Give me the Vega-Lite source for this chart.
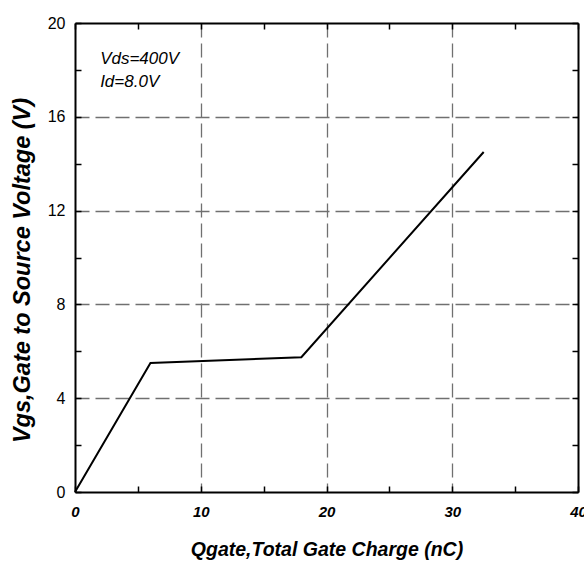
{
  "$schema": "https://vega.github.io/schema/vega-lite/v6.json",
  "width": 503,
  "height": 469,
  "autosize": {"type": "none"},
  "padding": {"left": 75, "top": 23, "right": 6, "bottom": 71},
  "background": "white",
  "config": {
    "view": {"stroke": null},
    "axis": {"domainColor": "black", "domainWidth": 2, "tickColor": "black", "tickWidth": 1.5, "labelColor": "black", "titleColor": "black"}
  },
  "datasets": {
    "curve": [
      {"q": 0, "v": 0},
      {"q": 6, "v": 5.5},
      {"q": 18, "v": 5.75},
      {"q": 32.5, "v": 14.5}
    ],
    "notes": [
      {"q": 2, "v": 18.27, "label": "Vds=400V"},
      {"q": 2, "v": 17.25, "label": "Id=8.0V"}
    ]
  },
  "layer": [
    {
      "data": {"name": "curve"},
      "mark": {"type": "line", "opacity": 0},
      "encoding": {
        "x": {"field": "q", "type": "quantitative", "scale": {"domain": [0, 40], "nice": false},
          "axis": {"orient": "bottom", "values": [10, 20, 30], "grid": true, "gridDash": [14, 6], "gridColor": "#707070", "gridWidth": 1.3, "labels": false, "ticks": false, "domain": false, "title": null}},
        "y": {"field": "v", "type": "quantitative", "scale": {"domain": [0, 20], "nice": false},
          "axis": {"orient": "left", "values": [4, 8, 12, 16], "grid": true, "gridDash": [14, 6], "gridColor": "#707070", "gridWidth": 1.3, "labels": false, "ticks": false, "domain": false, "title": null}}
      }
    },
    {
      "data": {"name": "curve"},
      "mark": {"type": "line", "color": "black", "strokeWidth": 2},
      "encoding": {
        "x": {"field": "q", "type": "quantitative", "scale": {"domain": [0, 40], "nice": false},
          "axis": {"orient": "bottom", "values": [0, 5, 10, 15, 20, 25, 30, 35, 40], "labelExpr": "datum.value % 10 == 0 ? datum.label : ''", "tickSize": -6, "labelPadding": 18, "grid": false, "labelFont": "Liberation Sans", "labelFontSize": 15, "labelFontWeight": "bold", "labelFontStyle": "italic", "labelFlush": false, "labelOverlap": false,
            "title": "Qgate,Total Gate Charge (nC)", "titleFont": "Liberation Sans", "titleFontSize": 19.5, "titleFontWeight": "bold", "titleFontStyle": "italic", "titleY": 63, "titleBaseline": "alphabetic"}},
        "y": {"field": "v", "type": "quantitative", "scale": {"domain": [0, 20], "nice": false},
          "axis": {"orient": "left", "values": [0, 2, 4, 6, 8, 10, 12, 14, 16, 18, 20], "labelExpr": "datum.value % 4 == 0 ? datum.label : ''", "tickSize": -6, "labelPadding": 16, "grid": false, "labelFont": "Liberation Sans", "labelFontSize": 16, "labelFlush": false, "labelOverlap": false,
            "title": "Vgs,Gate to Source Voltage (V)", "titleFont": "Liberation Sans", "titleFontSize": 23.5, "titleFontWeight": "bold", "titleFontStyle": "italic", "titleX": -53, "titleY": 247, "titleAlign": "center", "titleBaseline": "middle", "titleAngle": -90}}
      }
    },
    {
      "data": {"name": "notes"},
      "mark": {"type": "text", "align": "left", "baseline": "alphabetic", "font": "Liberation Sans", "fontSize": 17, "fontStyle": "italic", "color": "black"},
      "encoding": {
        "x": {"field": "q", "type": "quantitative", "scale": {"domain": [0, 40], "nice": false},
          "axis": {"orient": "top", "values": [0, 5, 10, 15, 20, 25, 30, 35, 40], "tickSize": -6, "labels": false, "grid": false, "title": null}},
        "y": {"field": "v", "type": "quantitative", "scale": {"domain": [0, 20], "nice": false},
          "axis": {"orient": "right", "values": [0, 2, 4, 6, 8, 10, 12, 14, 16, 18, 20], "tickSize": -6, "labels": false, "grid": false, "title": null}},
        "text": {"field": "label", "type": "nominal"}
      }
    }
  ],
  "resolve": {"axis": {"x": "independent", "y": "independent"}}
}
